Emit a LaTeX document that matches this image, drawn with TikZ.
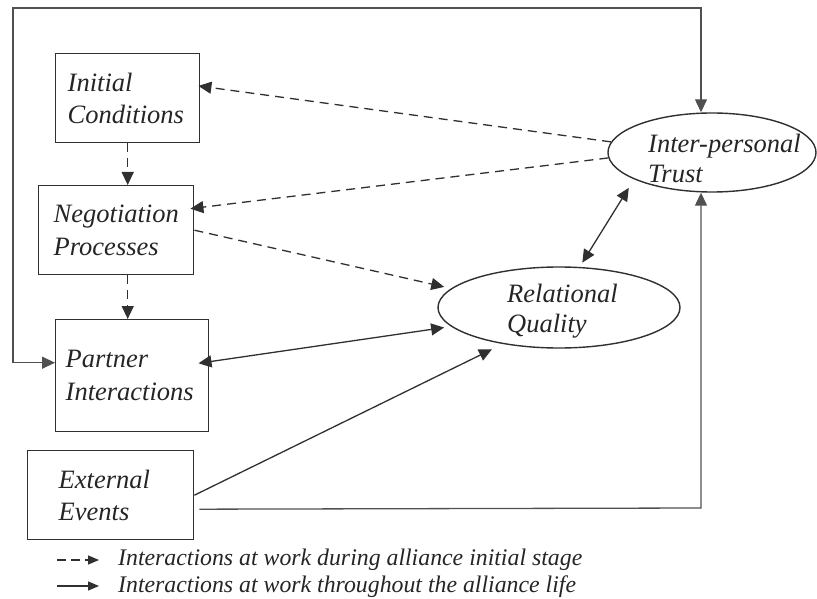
\documentclass[tikz,border=0pt]{standalone}
\usepackage{fontspec}
\setmainfont{Liberation Serif}
\usetikzlibrary{shapes.geometric,arrows.meta}
\definecolor{linec}{HTML}{303030}
\definecolor{framec}{HTML}{505050}
\definecolor{textc}{HTML}{252525}
\tikzset{
  box/.style={draw=linec, line width=1.4pt, rectangle, anchor=north west, align=left,
    inner xsep=12pt, inner ysep=0pt, font=\fontsize{26.5}{32.5}\selectfont\itshape, text=textc},
  oval/.style={draw=linec, line width=1.4pt, ellipse, inner sep=0pt},
  lbl/.style={align=left, inner sep=0pt, font=\fontsize{26.5}{29.5}\selectfont\itshape, text=textc},
  legtxt/.style={anchor=base west, inner sep=0pt, font=\fontsize{23.8}{27}\selectfont\itshape, text=textc},
  tip/.style={-{Triangle[length=13pt,width=12pt]}},
  dtip/.style={{Triangle[length=13pt,width=12pt]}-{Triangle[length=13pt,width=12pt]}},
  conn/.style={draw=linec, line width=1.3pt},
  dashconn/.style={draw=linec, line width=1.3pt, dash pattern=on 9pt off 6pt},
}
\begin{document}
\begin{tikzpicture}[x=1pt,y=-1pt]
\useasboundingbox (0,0) rectangle (817,599);
% boxes
\node[box, minimum width=144pt, minimum height=89pt, text width=120pt] (ic) at (55,53) {Initial\\Conditions};
\node[box, minimum width=155pt, minimum height=89pt, text width=125pt, inner xsep=15pt] (np) at (38,185) {Negotiation\\Processes};
\node[box, minimum width=153pt, minimum height=112pt, text width=133pt, inner xsep=10pt] (pi) at (55,319) {Partner\\Interactions\\[14pt]};
\node[box, minimum width=166pt, minimum height=89pt, text width=104pt, inner xsep=31pt] (ee) at (27,450) {External\\Events};
% ellipses
\node[oval, minimum width=208pt, minimum height=79pt] (trust) at (712,152.5) {};
\node[oval, minimum width=242pt, minimum height=81pt] (rq) at (559,307.5) {};
\node[lbl, anchor=north west] (trustlbl) at (648,134) {Inter-personal\\Trust};
\node[lbl, anchor=north west] (rqlbl) at (507,284) {Relational\\Quality};
% frame connector
\coordinate (tl) at (13,8);
\coordinate (tr) at (701,8);
\draw[conn, draw=framec, dtip] ([yshift=13pt]pi.west) -| (tl) -- (tr) -- (trust.north -| tr);
\coordinate (br) at (701,508);
\draw[conn, draw=framec, tip, shorten <=5pt] ([yshift=-14pt]ee.east) -- (br) -- (trust.south -| br);
% dashed connectors
\draw[dashconn, tip] (ic.south) -- (np.north -| ic.south);
\draw[dashconn, tip] (np.south -| ic.south) -- (pi.north -| ic.south);
\draw[dashconn, tip, shorten >=-2pt] (trust.174) -- ([yshift=12pt]ic.east);
\draw[dashconn, tip, shorten >=-4pt] (trust.183) -- ([yshift=22pt]np.east);
\draw[dashconn, tip, shorten >=7pt] (np.east) -- (rq.170);
% solid connectors
\draw[conn, dtip, shorten <=-11pt, shorten >=7pt] ([yshift=14pt]pi.east) -- (rq.190);
\draw[conn, tip, shorten >=12pt] (ee.east) -- (rq.213);
\draw[conn, dtip, shorten <=10pt, shorten >=5pt] (trust.199) -- (rq.63);
% legend
\coordinate (l1a) at (57,560);
\coordinate (l1b) at (99,560);
\coordinate (l2a) at (57,586);
\coordinate (l2b) at (99,586);
\draw[line width=1.3pt, draw=linec, dash pattern=on 9pt off 5pt, -{Triangle[length=11pt,width=9pt]}] (l1a) -- (l1b);
\draw[line width=1.3pt, draw=linec, -{Triangle[length=11pt,width=9pt]}] (l2a) -- (l2b);
\node[legtxt] (leg1) at (118,565) {Interactions at work during alliance initial stage};
\node[legtxt] (leg2) at (118,592) {Interactions at work throughout the alliance life};
\end{tikzpicture}
\end{document}
